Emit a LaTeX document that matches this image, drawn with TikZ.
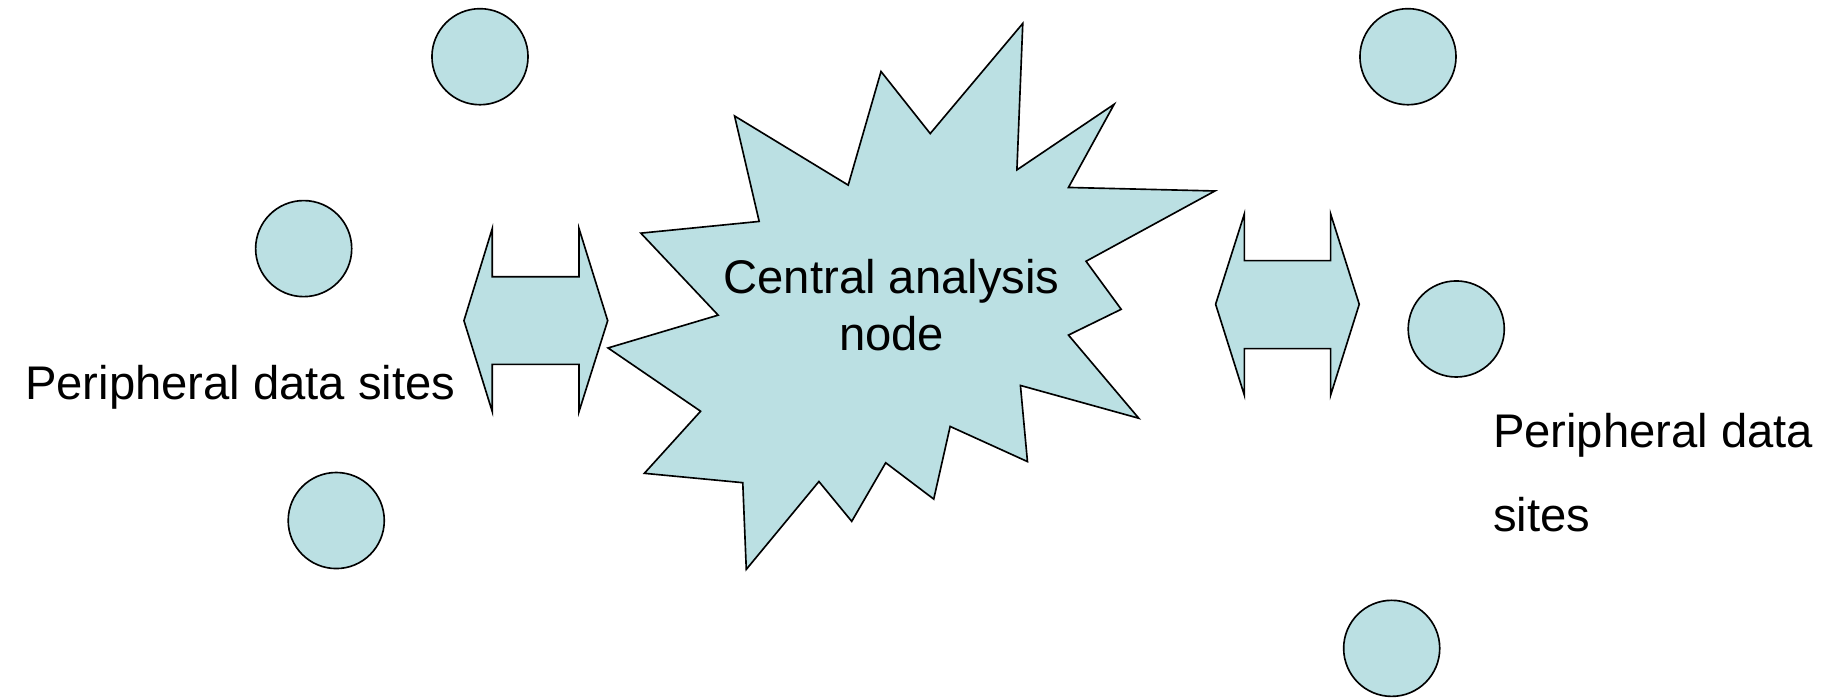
\documentclass[tikz,border=0pt]{standalone}
\usepackage{fontspec}
\setmainfont{Liberation Sans}
\definecolor{shapefill}{RGB}{187,224,227}
\tikzset{
  shapestyle/.style={draw=black, fill=shapefill, line width=0.7pt, line join=miter},
  site/.style={circle, shapestyle, minimum size=41pt, inner sep=0pt},
  label/.style={font=\fontsize{20.15pt}{24.2pt}\selectfont, inner sep=0pt},
}
\begin{document}
\begin{tikzpicture}[x=0.5pt, y=-0.5pt]
\useasboundingbox (0,0) rectangle (1568,595);
% peripheral sites
\node[site] (s1) at (409.7,48.4) {};
\node[site] (s2) at (259.2,212.2) {};
\node[site] (s3) at (287,444.3) {};
\node[site] (s4) at (1201.8,48.4) {};
\node[site] (s5) at (1243,280.8) {};
\node[site] (s6) at (1187.9,553.4) {};
% central starburst
\draw[shapestyle] (873,20) -- (868,145) -- (951,89) -- (912,160) -- (1037,163)
  -- (927,223) -- (957,264) -- (912,286) -- (972,357) -- (871,329)
  -- (877,394) -- (811,364) -- (797,426) -- (756,395) -- (727,445)
  -- (699,411) -- (637,486) -- (634,412) -- (550,404) -- (598,351)
  -- (519,297) -- (613,269) -- (547,199) -- (648,189) -- (627,99)
  -- (724,158) -- (752,61) -- (794,114) -- cycle;
% left double arrow
\draw[shapestyle] (396,273.7) -- (420.2,195) -- (420.2,236.2) -- (494.2,236.2)
  -- (494.2,195) -- (518.7,273.7) -- (494.2,351.4) -- (494.2,311) -- (420.2,311)
  -- (420.2,351.4) -- cycle;
% right double arrow
\draw[shapestyle] (1037.6,259.7) -- (1062.1,182.7) -- (1062.1,222.5) -- (1135.8,222.5)
  -- (1135.8,182.7) -- (1160.2,259.7) -- (1135.8,337.2) -- (1135.8,297.6) -- (1062.1,297.6)
  -- (1062.1,337.2) -- cycle;
% texts
\node[label, anchor=base west] (ltext) at (21,341.4) {Peripheral data sites};
\node[label, anchor=base, align=center] (ctext) at (761,299.3) {Central analysis\\node};
\node[label, anchor=base west, align=left, font=\fontsize{20.15pt}{36pt}\selectfont] (rtext) at (1274,453.8) {Peripheral data\\sites};
\end{tikzpicture}
\end{document}
